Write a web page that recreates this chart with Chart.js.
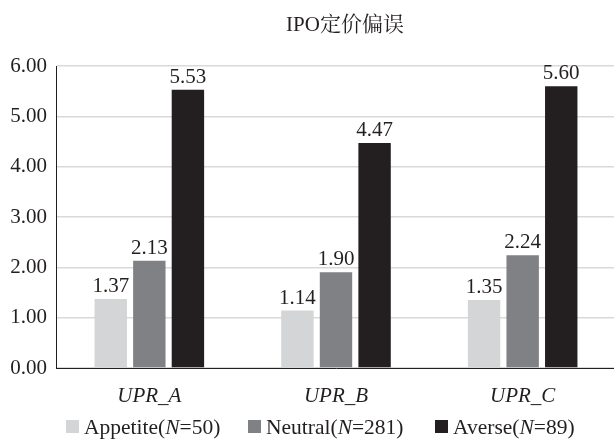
<!DOCTYPE html>
<html>
<head>
<meta charset="utf-8">
<script src="https://cdn.jsdelivr.net/npm/chart.js@4.4.0/dist/chart.umd.min.js"></script>
<style>
  html, body { margin: 0; padding: 0; background: #fff; overflow: hidden; }
  #wrap { width: 618px; height: 439px; }
</style>
</head>
<body>
<div id="wrap"><canvas id="ipo_chart"></canvas></div>
<script>
var categories = ['UPR_A', 'UPR_B', 'UPR_C'];
var appetite = [1.37, 1.14, 1.35];
var neutral = [2.13, 1.90, 2.24];
var averse = [5.53, 4.47, 5.60];
var seriesNames = [['Appetite(', 'N', '=50)'], ['Neutral(', 'N', '=281)'], ['Averse(', 'N', '=89)']];
var yTicks = [0, 1, 2, 3, 4, 5, 6];

var serif = "'Liberation Serif', 'Times New Roman', 'Noto Serif CJK SC', 'Noto Sans CJK SC', serif";
var barColors = ['#d4d5d6', '#808184', '#231f20'];

// title, value labels and legend are painted by hand
var extras = {
    id: 'extras',
    afterDatasetsDraw: function (chart) {
        var ctx = chart.ctx;
        ctx.save();
        ctx.fillStyle = '#231f20';
        ctx.font = '21px ' + serif;
        ctx.textAlign = 'center';
        ctx.textBaseline = 'alphabetic';
        chart.data.datasets.forEach(function (ds, i) {
            chart.getDatasetMeta(i).data.forEach(function (bar, j) {
                ctx.fillText(ds.data[j].toFixed(2), bar.x, bar.y - 7);
            });
        });

        // title
        ctx.font = '21px ' + serif;
        ctx.fillText('IPO定价偏误', 345, 31);

        // legend
        ctx.textAlign = 'left';
        var y = 434;
        var boxX = [66, 248, 435];
        seriesNames.forEach(function (parts, i) {
            var x = boxX[i];
            ctx.fillStyle = barColors[i];
            ctx.fillRect(x, y - 14, 13, 13);
            ctx.fillStyle = '#231f20';
            x += 18;
            ctx.font = '21.5px ' + serif;
            ctx.fillText(parts[0], x, y);
            x += ctx.measureText(parts[0]).width;
            ctx.font = 'italic 21.5px ' + serif;
            ctx.fillText(parts[1], x, y);
            x += ctx.measureText(parts[1]).width;
            ctx.font = '21.5px ' + serif;
            ctx.fillText(parts[2], x, y);
        });
        ctx.restore();
    }
};

var ipo_chart = document.getElementById('ipo_chart');
var My_ipo_chart = new Chart(ipo_chart, {
    type: 'bar',
    data: {
        labels: categories,
        datasets: [{
            label: 'Appetite(N=50)',
            data: appetite,
            backgroundColor: barColors[0]
        }, {
            label: 'Neutral(N=281)',
            data: neutral,
            backgroundColor: barColors[1]
        }, {
            label: 'Averse(N=89)',
            data: averse,
            backgroundColor: barColors[2]
        }]
    },
    options: {
        responsive: true,
        maintainAspectRatio: false,
        animation: false,
        layout: { padding: { top: 66, right: 2, bottom: 31, left: 0 } },
        datasets: {
            bar: { categoryPercentage: 0.62, barPercentage: 0.84 }
        },
        plugins: {
            legend: { display: false },
            title: { display: false },
            tooltip: { enabled: false }
        },
        scales: {
            x: {
                grid: { display: false },
                border: { display: true, color: '#231f20', width: 1 },
                ticks: {
                    color: '#231f20',
                    font: { family: serif, size: 21, style: 'italic' },
                    padding: 8
                },
                afterFit: function (scale) { scale.height = 40; }
            },
            y: {
                min: 0,
                max: 6,
                afterBuildTicks: function (scale) {
                    scale.ticks = yTicks.map(function (v) { return { value: v }; });
                },
                grid: { color: '#d9d9d9', lineWidth: 1.5, drawTicks: false },
                border: { display: true, color: '#231f20', width: 1 },
                ticks: {
                    color: '#231f20',
                    font: { family: serif, size: 21 },
                    padding: 9,
                    callback: function (v) { return Number(v).toFixed(2); }
                },
                afterFit: function (scale) { scale.width = 56; }
            }
        }
    },
    plugins: [extras]
});
</script>
</body>
</html>
